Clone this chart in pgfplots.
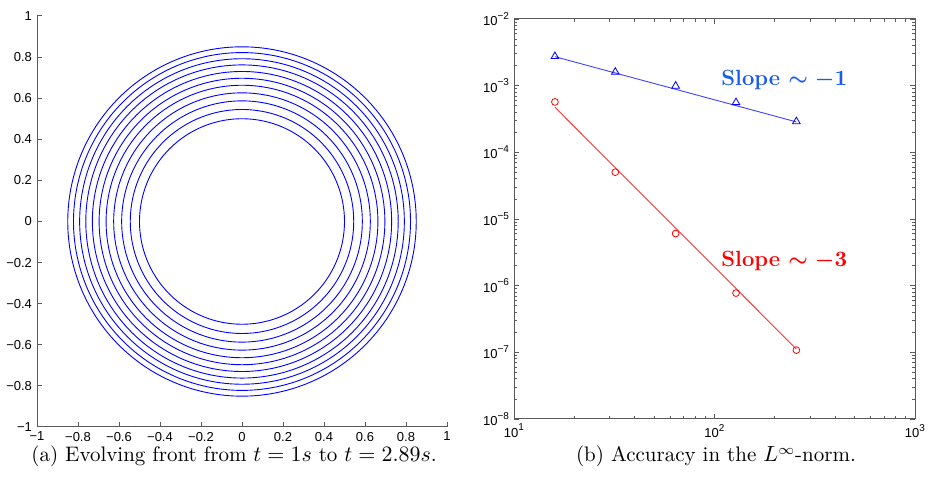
\documentclass[border=0pt]{standalone}
\usepackage{fontspec}
\usepackage{amsmath}
\usepackage{pgfplots}
\pgfplotsset{compat=1.18}
\newfontfamily\hv{Liberation Sans}
\definecolor{slopeblue}{RGB}{25,90,240}
\definecolor{axgray}{RGB}{90,90,90}
\begin{document}
\begin{tikzpicture}[x=1pt,y=1pt]
\useasboundingbox (0,0) rectangle (466.5,242.5);
% ---------- left: evolving front ----------
\begin{axis}[
  at={(18.5pt,29pt)}, anchor=south west,
  scale only axis, width=205pt, height=205.5pt,
  xmin=-1, xmax=1, ymin=-1, ymax=1,
  axis lines=left, axis line style={-, axgray, line width=0.5pt},
  tick style={axgray, line width=0.5pt},
  tick align=inside, major tick length=2.5pt,
  xtick={-1,-0.8,...,1.01}, ytick={-1,-0.8,...,1.01},
  xticklabels={−1,−0.8,−0.6,−0.4,−0.2,0,0.2,0.4,0.6,0.8,1},
  yticklabels={−1,−0.8,−0.6,−0.4,−0.2,0,0.2,0.4,0.6,0.8,1},
  ticklabel style={font=\hv\fontsize{6.5}{7}\selectfont, text=black},
  xticklabel style={yshift=1pt},
  yticklabel style={xshift=1pt},
]
\foreach \r in {0.500,0.545,0.587,0.626,0.663,0.697,0.730,0.762,0.792,0.822,0.850}{
  \addplot[blue, line width=0.45pt, domain=0:360, samples=121, smooth]
    ({\r*cos(x)},{\r*sin(x)});
}
\end{axis}
% ---------- right: accuracy ----------
\begin{axis}[
  at={(257pt,33pt)}, anchor=south west,
  scale only axis, width=200.5pt, height=200pt,
  xmode=log, ymode=log,
  xmin=10, xmax=1000, ymin=1e-8, ymax=1e-2,
  axis line style={axgray, line width=0.5pt},
  tick style={axgray, line width=0.4pt},
  tick align=inside, major tick length=2.5pt, minor tick length=1.3pt,
  xtick={10,100,1000},
  xticklabels={10\raisebox{0.9ex}{\fontsize{5}{5}\selectfont 1},10\raisebox{0.9ex}{\fontsize{5}{5}\selectfont 2},10\raisebox{0.9ex}{\fontsize{5}{5}\selectfont 3}},
  ytick={1e-8,1e-7,1e-6,1e-5,1e-4,1e-3,1e-2},
  yticklabels={10\raisebox{0.9ex}{\fontsize{5}{5}\selectfont −8},10\raisebox{0.9ex}{\fontsize{5}{5}\selectfont −7},10\raisebox{0.9ex}{\fontsize{5}{5}\selectfont −6},10\raisebox{0.9ex}{\fontsize{5}{5}\selectfont −5},10\raisebox{0.9ex}{\fontsize{5}{5}\selectfont −4},10\raisebox{0.9ex}{\fontsize{5}{5}\selectfont −3},10\raisebox{0.9ex}{\fontsize{5}{5}\selectfont −2}},
  ticklabel style={font=\hv\fontsize{6.5}{7}\selectfont, text=black},
  xticklabel style={yshift=1pt},
  yticklabel style={xshift=1pt},
]
% fitted lines
\addplot[blue!75, line width=0.45pt] coordinates {(16,2.72e-3) (256,2.86e-4)};
\addplot[red!80, line width=0.45pt] coordinates {(16,4.74e-4) (256,1.12e-7)};
% measured errors
\addplot[blue, only marks, mark=triangle, mark size=2.2pt, mark options={line width=0.4pt}]
  coordinates {(16,2.75e-3) (32,1.6e-3) (64,9.9e-4) (128,5.6e-4) (256,2.9e-4)};
\addplot[red, only marks, mark=o, mark size=1.7pt, mark options={line width=0.4pt}]
  coordinates {(16,5.7e-4) (32,5.04e-5) (64,6.06e-6) (128,7.74e-7) (256,1.08e-7)};
\node[anchor=base west, text=slopeblue, font=\fontsize{11}{13}\selectfont\bfseries\boldmath, inner sep=0pt]
  at (axis cs:107.8,1.0e-3) {Slope $\sim -1$};
\node[anchor=base west, text=red, font=\fontsize{11}{13}\selectfont\bfseries\boldmath, inner sep=0pt]
  at (axis cs:107.8,1.94e-6) {Slope $\sim -3$};
\end{axis}
% ---------- captions ----------
\node[anchor=base, font=\fontsize{10.5}{12}\selectfont, inner sep=0pt] at (117,11.5)
  {(a) Evolving front from $t=1s$ to $t=2.89s$.};
\node[anchor=base, font=\fontsize{10.5}{12}\selectfont, inner sep=0pt] at (358,11.5)
  {(b) Accuracy in the $L^\infty$-norm.};
\end{tikzpicture}
\end{document}
